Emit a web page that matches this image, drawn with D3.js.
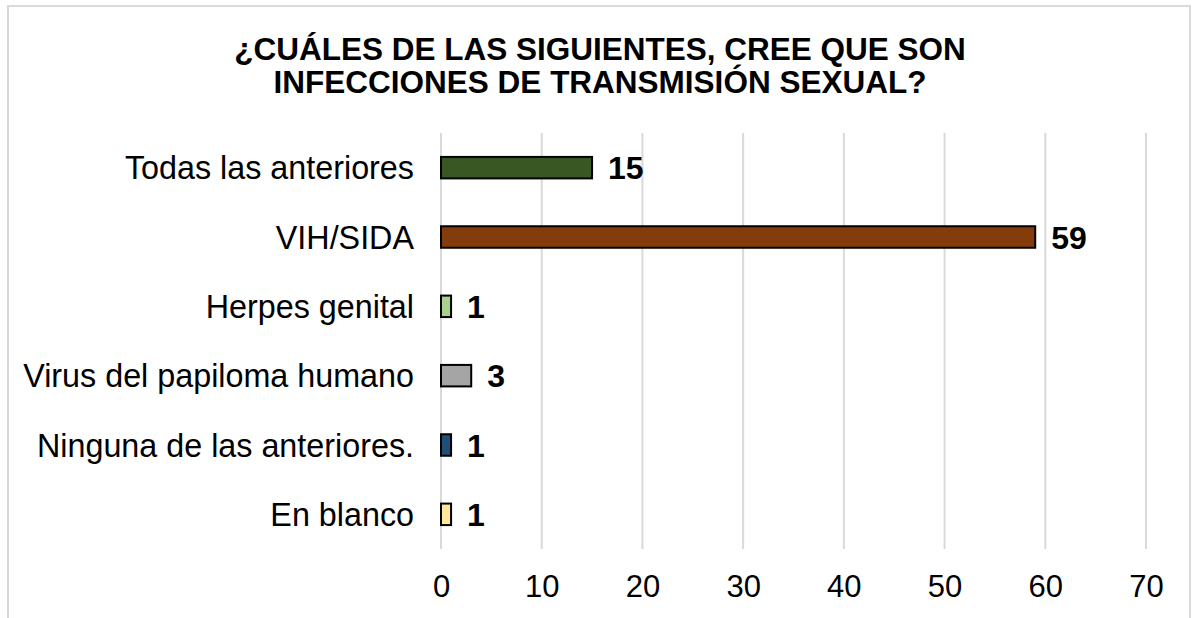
<!DOCTYPE html>
<html>
<head>
<meta charset="utf-8">
<script src="https://cdn.jsdelivr.net/npm/d3@7"></script>
<style>
  body { margin: 0; background: #fff; }
  svg text { font-family: "Liberation Sans", Arial, sans-serif; fill: #000; }
</style>
</head>
<body>
<div id="chart"></div>
<script>
var categories = ["Todas las anteriores", "VIH/SIDA", "Herpes genital", "Virus del papiloma humano", "Ninguna de las anteriores.", "En blanco"];
var values = [15, 59, 1, 3, 1, 1];
var barColors = ["#385723", "#843c0c", "#a9d18e", "#a5a5a5", "#1f4e79", "#ffe699"];
var xTicks = [0, 10, 20, 30, 40, 50, 60, 70];
var titleLines = ["¿CUÁLES DE LAS SIGUIENTES, CREE QUE SON", "INFECCIONES DE TRANSMISIÓN SEXUAL?"];

(function () {
  'use strict'

  var W = 1193, H = 618;
  var plotTop = 133, plotBottom = 549;

  var svg = d3.select("#chart").append("svg")
    .attr("width", W)
    .attr("height", H);

  // chart frame
  svg.append("rect")
    .attr("x", 8).attr("y", 6)
    .attr("width", 1182).attr("height", 640)
    .attr("fill", "#fff")
    .attr("stroke", "#d9d9d9")
    .attr("stroke-width", 2);

  var x = d3.scaleLinear().domain([0, 70]).range([441, 1146]);
  var y = d3.scaleBand().domain(categories).range([plotTop, plotBottom])
    .paddingInner(0.69).paddingOuter(0.345);

  // title
  svg.append("g").selectAll("text")
    .data(titleLines)
    .enter().append("text")
    .attr("x", 600)
    .attr("y", function(d, i) { return 60 + i * 33; })
    .attr("text-anchor", "middle")
    .style("font-size", "31.5px")
    .style("font-weight", "bold")
    .text(function(d) { return d; });

  // vertical gridlines
  svg.append("g")
    .selectAll("line")
    .data(xTicks)
    .enter().append("line")
    .attr("x1", function(d) { return x(d); })
    .attr("x2", function(d) { return x(d); })
    .attr("y1", plotTop)
    .attr("y2", plotBottom)
    .attr("stroke", "#d9d9d9")
    .attr("stroke-width", 2);

  // bars
  svg.append("g")
    .selectAll("rect")
    .data(values)
    .enter().append("rect")
    .attr("x", x(0))
    .attr("y", function(d, i) { return y(categories[i]); })
    .attr("width", function(d) { return x(d) - x(0); })
    .attr("height", y.bandwidth())
    .attr("fill", function(d, i) { return barColors[i]; })
    .attr("stroke", "#000")
    .attr("stroke-width", 2);

  // value labels
  svg.append("g")
    .selectAll("text")
    .data(values)
    .enter().append("text")
    .attr("x", function(d) { return x(d) + 16; })
    .attr("y", function(d, i) { return y(categories[i]) + y.bandwidth() / 2; })
    .attr("dy", "0.36em")
    .style("font-size", "32px")
    .style("font-weight", "bold")
    .text(function(d) { return d; });

  // category axis
  var yAxis = svg.append("g")
    .attr("transform", "translate(441,0)")
    .call(d3.axisLeft(y).tickSize(0).tickPadding(27));
  yAxis.select(".domain").remove();
  yAxis.selectAll("text")
    .style("font-size", "32.3px")
    .attr("dy", "0.36em")
    .attr("font-family", null);

  // value axis
  var xAxis = svg.append("g")
    .attr("transform", "translate(0," + plotBottom + ")")
    .call(d3.axisBottom(x).tickValues(xTicks).tickSize(0).tickPadding(26));
  xAxis.select(".domain").remove();
  xAxis.selectAll("text")
    .style("font-size", "31px")
    .attr("font-family", null);
})()
</script>
</body>
</html>
